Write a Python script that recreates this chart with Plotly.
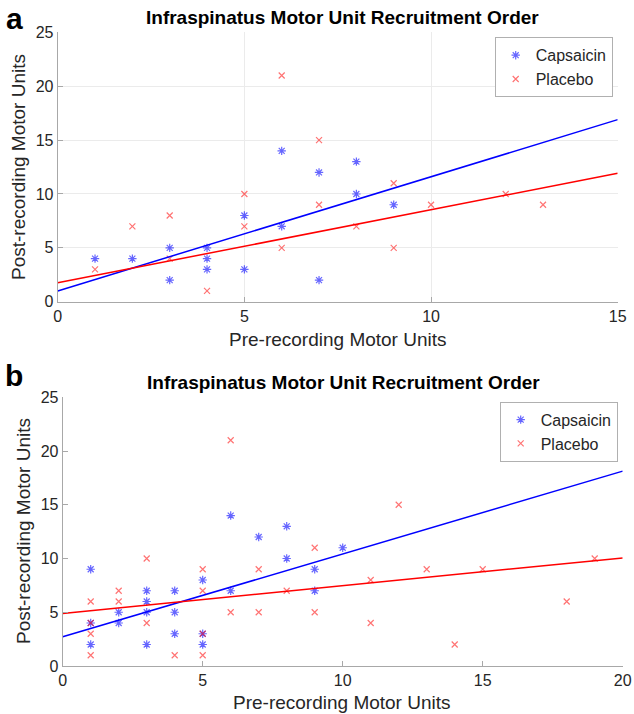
import plotly.graph_objects as go

# ---------------- Data: panel a ----------------
caps_a_x = [1, 2, 3, 3, 4, 4, 4, 5, 5, 6, 6, 7, 7, 8, 8, 9]
caps_a_y = [4, 4, 5, 2, 5, 4, 3, 3, 8, 14, 7, 12, 2, 13, 10, 9]
plac_a_x = [1, 2, 3, 3, 4, 5, 5, 6, 6, 7, 7, 8, 9, 9, 10, 12, 13]
plac_a_y = [3, 7, 8, 4, 1, 10, 7, 21, 5, 15, 9, 7, 11, 5, 9, 10, 9]
fit_a_x = [0, 15]
caps_fit_a = [1.0, 16.9]
plac_fit_a = [1.76, 11.92]

# ---------------- Data: panel b ----------------
caps_b_x = [1, 1, 1, 2, 2, 3, 3, 3, 3, 4, 4, 4, 5, 5, 5, 6, 6, 7, 8, 8, 9, 9, 10]
caps_b_y = [9, 4, 2, 5, 4, 7, 6, 5, 2, 7, 5, 3, 8, 3, 2, 14, 7, 12, 13, 10, 9, 7, 11]
plac_b_x = [1, 1, 1, 1, 2, 2, 3, 3, 4, 5, 5, 5, 5, 6, 6, 7, 7, 8, 9, 9, 11, 11, 12, 13, 14, 15, 18, 19]
plac_b_y = [6, 4, 3, 1, 7, 6, 10, 4, 1, 9, 7, 3, 1, 21, 5, 9, 5, 7, 11, 5, 8, 4, 15, 9, 2, 9, 6, 10]
fit_b_x = [0, 20]
caps_fit_b = [2.72, 18.13]
plac_fit_b = [4.89, 10.06]

title_text = "Infraspinatus Motor Unit Recruitment Order"
x_title = "Pre-recording Motor Units"
y_title = "Post-recording Motor Units"
y_ticks = [0, 5, 10, 15, 20, 25]

W, H = 634, 714
FONT = "Liberation Sans, Arial, sans-serif"
BLUE = "#0000ff"
RED = "#ff0000"
AX = "#a8a8a8"
TXT = "#262626"

fig = go.Figure()

def add_panel(xs_c, ys_c, xs_p, ys_p, fx, fc, fp, xa, ya, leg):
    fig.add_trace(go.Scatter(
        x=xs_c, y=ys_c, mode="markers", name="Capsaicin",
        marker=dict(symbol="asterisk-open", size=7, color="rgba(0,0,255,0.6)",
                    line=dict(width=1.2, color="rgba(0,0,255,0.6)")),
        xaxis=xa, yaxis=ya, legend=leg, showlegend=True))
    fig.add_trace(go.Scatter(
        x=xs_p, y=ys_p, mode="markers", name="Placebo",
        marker=dict(symbol="x-thin-open", size=6, color="rgba(255,0,0,0.55)",
                    line=dict(width=1.2, color="rgba(255,0,0,0.55)")),
        xaxis=xa, yaxis=ya, legend=leg, showlegend=True))
    fig.add_trace(go.Scatter(
        x=fx, y=fc, mode="lines", line=dict(color=BLUE, width=1.5),
        xaxis=xa, yaxis=ya, showlegend=False, hoverinfo="skip"))
    fig.add_trace(go.Scatter(
        x=fx, y=fp, mode="lines", line=dict(color=RED, width=1.5),
        xaxis=xa, yaxis=ya, showlegend=False, hoverinfo="skip"))

add_panel(caps_a_x, caps_a_y, plac_a_x, plac_a_y, fit_a_x, caps_fit_a, plac_fit_a,
          "x", "y", "legend")
add_panel(caps_b_x, caps_b_y, plac_b_x, plac_b_y, fit_b_x, caps_fit_b, plac_fit_b,
          "x2", "y2", "legend2")

def px_x(p):
    return p / W

def px_y(p):
    return 1 - p / H

axis_common = dict(showline=True, linecolor=AX, linewidth=1, ticks="inside",
                   ticklen=5, tickcolor=AX, tickwidth=1, zeroline=False,
                   automargin=False,
                   tickfont=dict(family=FONT, size=16, color=TXT), mirror=False)

fig.update_layout(
    template="none",
    width=W, height=H,
    margin=dict(l=0, r=0, t=0, b=0, autoexpand=False),
    paper_bgcolor="white", plot_bgcolor="white",
    xaxis=dict(domain=[px_x(57.7), px_x(617.7)], range=[0, 15], tickvals=[0, 5, 10, 15],
               showgrid=True, gridcolor="#ebebeb", gridwidth=1, anchor="y", **axis_common),
    yaxis=dict(domain=[px_y(301.7), px_y(32.4)], range=[0, 25], tickvals=y_ticks,
               showgrid=True, gridcolor="#ebebeb", gridwidth=1, anchor="x", **axis_common),
    xaxis2=dict(domain=[px_x(62.7), px_x(622.7)], range=[0, 20], tickvals=[0, 5, 10, 15, 20],
                showgrid=False, anchor="y2", **axis_common),
    yaxis2=dict(domain=[px_y(666), px_y(397.3)], range=[0, 25], tickvals=y_ticks,
                showgrid=False, anchor="x2", **axis_common),
    legend=dict(x=px_x(612.7), y=px_y(37.3), xanchor="right", yanchor="top",
                bordercolor="#b0b0b0", borderwidth=1, bgcolor="white",
                font=dict(family=FONT, size=16, color=TXT), itemwidth=30,
                tracegroupgap=0),
    legend2=dict(x=px_x(617.7), y=px_y(401.7), xanchor="right", yanchor="top",
                 bordercolor="#b0b0b0", borderwidth=1, bgcolor="white",
                 font=dict(family=FONT, size=16, color=TXT), itemwidth=30,
                 tracegroupgap=0),
    showlegend=True,
)

annotations = [
    # panel letters
    dict(text="<b>a</b>", x=px_x(14), y=px_y(18), font=dict(size=30, color="black")),
    dict(text="<b>b</b>", x=px_x(14), y=px_y(375), font=dict(size=30, color="black")),
    # titles
    dict(text="<b>" + title_text + "</b>", x=px_x(342), y=px_y(17), font=dict(size=19, color="black")),
    dict(text="<b>" + title_text + "</b>", x=px_x(343), y=px_y(382), font=dict(size=19, color="black")),
    # x titles
    dict(text=x_title, x=px_x(338), y=px_y(339), font=dict(size=19, color=TXT)),
    dict(text=x_title, x=px_x(342), y=px_y(702), font=dict(size=19, color=TXT)),
    # y titles
    dict(text=y_title, x=px_x(18), y=px_y(167), textangle=-90, font=dict(size=19, color=TXT)),
    dict(text=y_title, x=px_x(23), y=px_y(531), textangle=-90, font=dict(size=19, color=TXT)),
]
for a in annotations:
    a.update(xref="paper", yref="paper", showarrow=False, xanchor="center", yanchor="middle")
    a["font"]["family"] = FONT
fig.update_layout(annotations=annotations)

fig.write_html(
    "out.html",
    config={"displayModeBar": False},
    post_script="document.body.style.margin='0';document.body.style.overflow='hidden';",
)
